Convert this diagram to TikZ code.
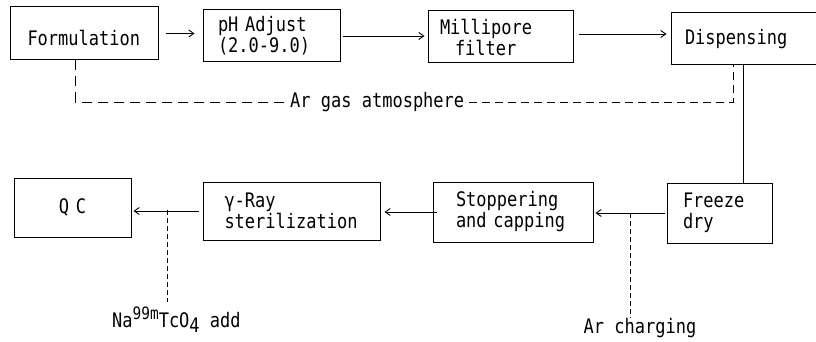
\documentclass[tikz,border=0pt]{standalone}
\usepackage{fontspec}
\setmonofont[FakeStretch=0.85]{DejaVu Sans Mono}
\usetikzlibrary{arrows.meta}
\begin{document}
\begin{tikzpicture}[x=1pt,y=-1pt,
  box/.style={draw, line width=1pt, inner ysep=0pt, align=left,
    font=\fontsize{20}{21}\selectfont\ttfamily},
  lbl/.style={inner sep=0pt, font=\fontsize{20}{21}\selectfont\ttfamily},
  arr/.style={line width=0.9pt, -{Straight Barb[length=5pt,width=7pt]}},
  dline/.style={line width=0.9pt, dash pattern=on 10pt off 6pt},
  rdline/.style={line width=0.9pt, dash pattern=on 8pt off 5pt},
  sdline/.style={line width=0.9pt, dash pattern=on 5pt off 3pt}]
\clip (0,0) rectangle (816,342);
\fill[white] (0,0) rectangle (816,342);
% top row
\node[box, inner xsep=17.5pt, text width=113pt, minimum height=53pt] (form) at (84,33.5) {\rule{0pt}{25pt}Formulation};
\node[box, inner xsep=15pt, text width=107pt, minimum height=52pt] (ph) at (271.5,36) {pH Adjust\\(2.0-9.0)};
\node[box, inner xsep=12pt, text width=121pt, minimum height=52pt] (mill) at (500.5,37) {Millipore\\\hspace*{15pt}filter};
\node[box, inner xsep=14pt, text width=120pt, minimum height=52pt] (disp) at (745,39) {Dispensing};
% bottom row
\node[box, inner xsep=16pt, text width=73pt, minimum height=60pt] (freeze) at (719.5,213) {Freeze\\dry};
\node[box, inner xsep=23pt, text width=114pt, minimum height=60pt] (stop) at (513,212) {Stoppering\\and capping};
\node[box, inner xsep=21.5pt, text width=134pt, minimum height=58pt] (gam) at (291.5,211) {γ-Ray\\sterilization};
\node[box, align=center, inner xsep=0pt, text width=117pt, minimum height=59pt] (qc) at (72.5,207.5) {Q C};
% labels
\node[lbl, anchor=west] (argas) at (290,102) {Ar gas atmosphere};
\node[lbl] (archg) at (640,328) {Ar charging};
\node[lbl, anchor=base west] (tc) at (112,327) {Na\raisebox{8pt}{\fontsize{17}{17}\selectfont 99m}TcO\raisebox{-5pt}{4} add};
% arrows
\draw[arr, shorten <=7pt, shorten >=8pt] (form.east) -- (form.east -| ph.west);
\draw[arr, shorten <=2pt, shorten >=3pt] (ph.east) -- (ph.east -| mill.west);
\draw[arr, shorten <=5pt, shorten >=4pt] ([yshift=3pt]mill.east) -- ([yshift=3pt]mill.east -| disp.west);
\draw[arr, shorten <=2pt, shorten >=2pt] (freeze.west) -- (freeze.west -| stop.east);
\draw[arr, shorten <=-4pt, shorten >=4pt] (stop.west) -- (stop.west -| gam.east);
\draw[arr, shorten <=4pt, shorten >=2pt] (gam.west) -- (gam.west -| qc.east);
% connectors
\draw[dline, shorten >=4pt] ([xshift=-9pt]form.south) |- (argas.west);
\draw[rdline, shorten <=5pt] (argas.east) -| ([xshift=-12pt]disp.south);
\draw[line width=0.9pt] ([xshift=-2pt]disp.south) -- ([xshift=-2pt]disp.south |- freeze.north);
\coordinate (c1) at (630,213);
\draw[sdline] (c1) -- (c1 |- archg.north);
\coordinate (c2) at (167,210);
\draw[sdline] (c2) -- (167,302);
\end{tikzpicture}
\end{document}
